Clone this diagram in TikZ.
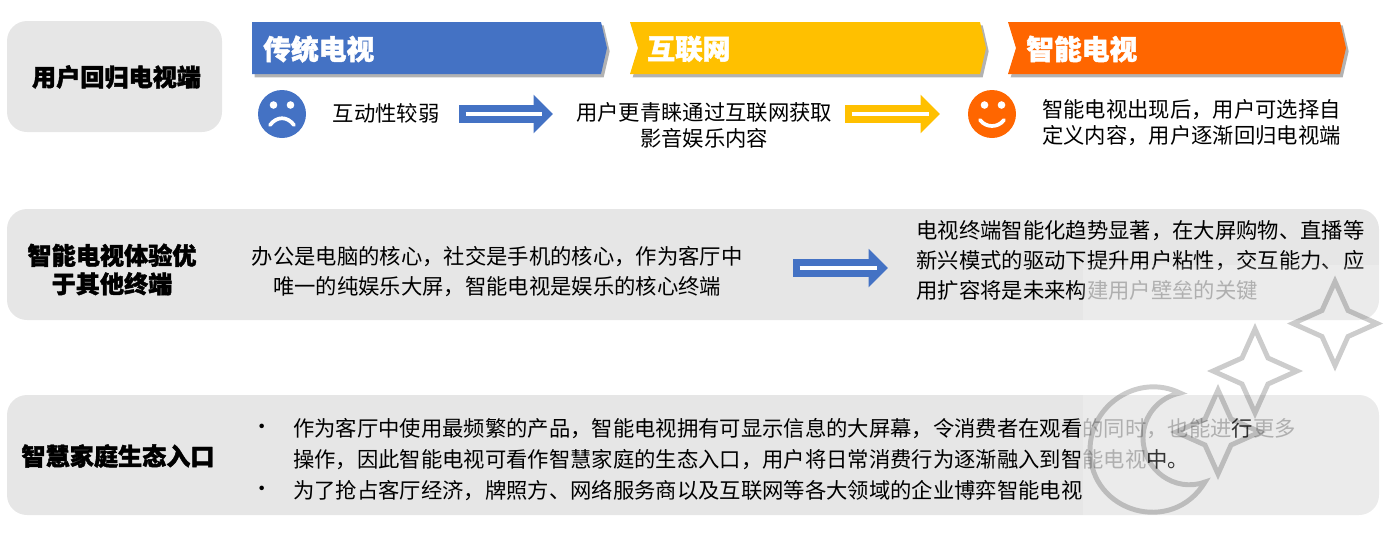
\documentclass[tikz,border=0pt]{standalone}
\usepackage{fontspec}
\setmainfont{Noto Sans CJK SC}[BoldFeatures={FakeBold=1.6}]
\usepackage{xcolor}
\usetikzlibrary{arrows.meta,shadows}
\definecolor{tvblue}{HTML}{4472C4}
\definecolor{netyellow}{HTML}{FFC000}
\definecolor{smartorange}{HTML}{FF6600}
\definecolor{panelgrey}{HTML}{E6E6E6}
\definecolor{fadedtext}{HTML}{9C9C9C}
\pgfdeclarelayer{nodelayer}
\pgfdeclarelayer{edgelayer}
\pgfsetlayers{nodelayer, edgelayer, main}
\tikzset{
	panel/.style={fill=panelgrey,rounded corners=15pt,inner sep=0pt},
	headtext/.style={font=\fontsize{18.1}{24}\selectfont\bfseries,align=center,text=black,inner sep=0pt},
	bannertext/.style={font=\fontsize{20.8}{24}\selectfont\bfseries,text=white,anchor=west,inner sep=0pt},
	bodytext/.style={font=\fontsize{16}{19.5}\selectfont,align=center,inner sep=0pt},
	banner/.style={drop shadow={shadow xshift=2pt,shadow yshift=-2.5pt,fill=black,opacity=.3}},
	fatarrow/.style={line width=13.5pt,-{Triangle[length=14.5pt,width=28pt]}},
	slimline/.style={white,line width=2.8pt,shorten <=5pt,shorten >=8.5pt},
	faceline/.style={white,line width=2.8pt,line cap=round},
	wmline/.style={black,opacity=.2,line width=3.7pt,line join=miter}
}
\begin{document}
\begin{tikzpicture} [x=0.75pt,y=-0.75pt]
	\useasboundingbox (0,0) rectangle (1388,533);
	\begin{pgfonlayer}{nodelayer}
		\node[panel,minimum width=161.25pt,minimum height=83.25pt] (panelone) at (114.5,76.5) {};
		\node[panel,minimum width=1029pt,minimum height=83.25pt] (paneltwo) at (693,264.5) {};
		\node[panel,minimum width=1029pt,minimum height=90pt] (panelthree) at (693,455) {};
		\node[headtext] (headone) at (116.5,77) {用户回归电视端};
		\node[headtext,font=\fontsize{18.1}{21.3}\selectfont\bfseries] (headtwo) at (112,269.5) {智能电视体验优\\于其他终端};
		\node[headtext] (headthree) at (118,456) {智慧家庭生态入口};
		\fill[tvblue,banner] (252,22) -- (601,22) -- (607,48) -- (601,74) -- (252,74) -- cycle;
		\fill[netyellow,banner] (630,22) -- (980,22) -- (986,48) -- (980,74) -- (630,74) -- (638,48) -- cycle;
		\fill[smartorange,banner] (1008,22) -- (1340,22) -- (1346,48) -- (1340,74) -- (1008,74) -- (1016,48) -- cycle;
		\node[bannertext] (bannerone) at (263,49) {传统电视};
		\node[bannertext] (bannertwo) at (647,49) {互联网};
		\node[bannertext] (bannerthree) at (1026,49) {智能电视};
		\node[circle,fill=tvblue,minimum size=36pt,inner sep=0pt] (sadface) at (282,114) {};
		\fill[white] (273.5,105) circle (3.8);
		\fill[white] (290.5,105) circle (3.8);
		\draw[faceline] (270,125) .. controls (277,116) and (287,116) .. (294,125);
		\node[circle,fill=smartorange,minimum size=36pt,inner sep=0pt] (smileface) at (992,114) {};
		\fill[white] (984.5,105) circle (3.8);
		\fill[white] (1001.5,105) circle (3.8);
		\draw[faceline] (980,120) .. controls (986,128) and (998,128) .. (1004,120);
		\node[bodytext] (weaktext) at (386,113) {互动性较弱};
		\node[bodytext] (nettext) at (704,125) {用户更青睐通过互联网获取\\影音娱乐内容};
		\node[bodytext,align=left] (smarttext) at (1191.5,123) {智能电视出现后，用户可选择自\\定义内容，用户逐渐回归电视端};
		\node[bodytext,font=\fontsize{16}{23}\selectfont] (coretext) at (497,271.5) {办公是电脑的核心，社交是手机的核心，作为客厅中\\唯一的纯娱乐大屏，智能电视是娱乐的核心终端};
		\node[bodytext,font=\fontsize{16}{22.5}\selectfont,align=left] (trendtext) at (1140.5,260) {电视终端智能化趋势显著，在大屏购物、直播等\\新兴模式的驱动下提升用户粘性，交互能力、应\\用扩容将是未来构\textcolor{fadedtext}{建用户壁垒的关键}};
		\node[bodytext] (dotone) at (262,429) {•};
		\node[bodytext] (dottwo) at (262,491) {•};
		\node[bodytext,font=\fontsize{16}{23}\selectfont,align=left,anchor=west] (entrytext) at (293,459.5) {作为客厅中使用最频繁的产品，智能电视拥有可显示信息的大屏幕，令消费者在观看\textcolor{fadedtext}{的同时，也能进}行\textcolor{fadedtext}{更多}\\操作，因此智能电视可看作智慧家庭的生态入口，用户将日常消费行为逐渐融入到智\textcolor{fadedtext}{能电视}中。\\为了抢占客厅经济，牌照方、网络服务商以及互联网等各大领域的企业博弈智能电视};
		\coordinate (arrowonea) at (459,114);
		\coordinate (arrowoneb) at (553,114);
		\coordinate (arrowtwoa) at (845,114);
		\coordinate (arrowtwob) at (940,114);
		\coordinate (arrowthreea) at (793,268);
		\coordinate (arrowthreeb) at (888,268);
	\end{pgfonlayer}
	\begin{pgfonlayer}{edgelayer}
		\draw[fatarrow,tvblue] (arrowonea) to (arrowoneb);
		\draw[slimline] (arrowonea) to (arrowoneb);
		\draw[fatarrow,netyellow] (arrowtwoa) to (arrowtwob);
		\draw[slimline] (arrowtwoa) to (arrowtwob);
		\draw[fatarrow,tvblue] (arrowthreea) to (arrowthreeb);
		\draw[slimline] (arrowthreea) to (arrowthreeb);
	\end{pgfonlayer}
	\fill[white,opacity=.2] (1083,265) rectangle (1388,515);
	\foreach \sx/\sy in {1335/323.5,1255/371,1218/432}
		\draw[wmline,shift={(\sx,\sy)}] (0,-42) -- (13,-13) -- (42,0) -- (13,13) -- (0,42) -- (-13,13) -- (-42,0) -- (-13,-13) -- cycle;
	\draw[wmline] (1180,393) .. controls (1139,373) and (1090,404) .. (1090,450) .. controls (1090,513) and (1172.5,536) .. (1205,482) .. controls (1175,493) and (1143,470) .. (1143,438) .. controls (1143,416) and (1158.4,397.4) .. (1180,393) -- cycle;
\end{tikzpicture}
\end{document}
